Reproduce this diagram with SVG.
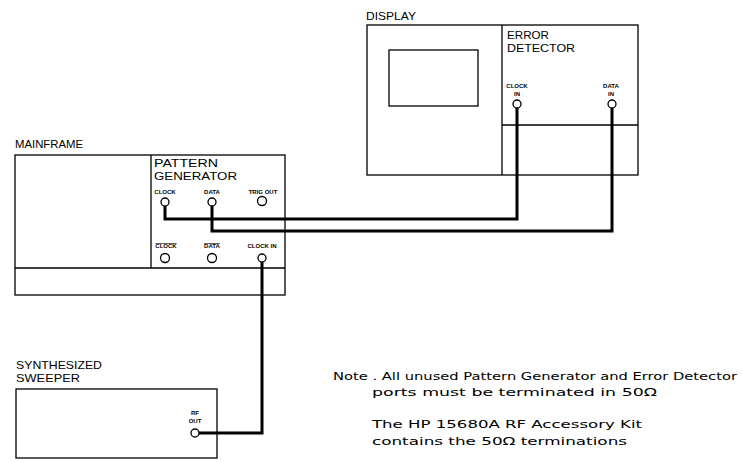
<svg xmlns="http://www.w3.org/2000/svg" width="743" height="462" viewBox="0 0 743 462">
<style>
.box{fill:none;stroke:#000;stroke-width:1.3}
.port{fill:#fff;stroke:#000;stroke-width:1.3}
.wire{fill:none;stroke:#000;stroke-width:3;stroke-linejoin:miter}
.t{font-family:"Liberation Sans",Arial,sans-serif;font-size:10.5px;fill:#000}
.s{font-family:"Liberation Sans",Arial,sans-serif;font-size:6px;font-weight:bold;fill:#000}
.n{font-family:"DejaVu Sans","Liberation Sans",sans-serif;font-size:11px;fill:#000}
</style>
<rect width="743" height="462" fill="#fff"/>
<g id="connectors">
<polyline class="wire" points="165,206 165,219 517,219 517,104"/>
<polyline class="wire" points="212,206 212,231 612,231 612,104"/>
<polyline class="wire" points="262,258 262,433 195,433"/>
</g>
<g id="display-error-detector">
<text class="t" x="366" y="20" textLength="50" lengthAdjust="spacingAndGlyphs">DISPLAY</text>
<rect class="box" x="367" y="25" width="271" height="150"/>
<line class="box" x1="502" y1="25" x2="502" y2="175"/>
<line class="box" x1="502" y1="125" x2="638" y2="125"/>
<rect class="box" x="389" y="50" width="89" height="56"/>
<text class="t" x="507" y="39" textLength="42" lengthAdjust="spacingAndGlyphs">ERROR</text>
<text class="t" x="507" y="52" textLength="68" lengthAdjust="spacingAndGlyphs">DETECTOR</text>
<text class="s" x="517" y="88" text-anchor="middle">CLOCK</text>
<text class="s" x="517" y="96" text-anchor="middle">IN</text>
<circle class="port" cx="517" cy="104" r="4"/>
<text class="s" x="611" y="88" text-anchor="middle">DATA</text>
<text class="s" x="611" y="96" text-anchor="middle">IN</text>
<circle class="port" cx="612" cy="104" r="4"/>
</g>
<g id="mainframe-pattern-generator">
<text class="t" x="15" y="148" textLength="68" lengthAdjust="spacingAndGlyphs">MAINFRAME</text>
<rect class="box" x="15" y="155" width="270" height="140"/>
<line class="box" x1="151" y1="155" x2="151" y2="268"/>
<line class="box" x1="15" y1="268" x2="285" y2="268"/>
<text class="t" x="154" y="167" textLength="64" lengthAdjust="spacingAndGlyphs">PATTERN</text>
<text class="t" x="154" y="180" textLength="83" lengthAdjust="spacingAndGlyphs">GENERATOR</text>
<text class="s" x="165" y="194" text-anchor="middle">CLOCK</text>
<text class="s" x="212" y="194" text-anchor="middle">DATA</text>
<text class="s" x="263" y="194" text-anchor="middle">TRIG OUT</text>
<circle class="port" cx="165" cy="202" r="4"/>
<circle class="port" cx="212" cy="202" r="4"/>
<circle class="port" cx="262" cy="201" r="4.5"/>
<text class="s" x="166" y="248" text-anchor="middle" text-decoration="overline">CLOCK</text>
<text class="s" x="212" y="248" text-anchor="middle" text-decoration="overline">DATA</text>
<text class="s" x="262" y="248" text-anchor="middle">CLOCK IN</text>
<circle class="port" cx="165" cy="258" r="4.5"/>
<circle class="port" cx="212" cy="258" r="4.5"/>
<circle class="port" cx="262" cy="258" r="4"/>
</g>
<g id="synthesized-sweeper">
<text class="t" x="16" y="369" textLength="86" lengthAdjust="spacingAndGlyphs">SYNTHESIZED</text>
<text class="t" x="16" y="382" textLength="64" lengthAdjust="spacingAndGlyphs">SWEEPER</text>
<rect class="box" x="16" y="389" width="201" height="69"/>
<text class="s" x="195" y="415" text-anchor="middle">RF</text>
<text class="s" x="195" y="423" text-anchor="middle">OUT</text>
<circle class="port" cx="195" cy="433" r="4"/>
</g>
<g id="note">
<text class="n" x="333" y="380" textLength="404" lengthAdjust="spacingAndGlyphs">Note . All unused Pattern Generator and Error Detector</text>
<text class="n" x="372" y="396" textLength="285" lengthAdjust="spacingAndGlyphs">ports must be terminated in 50Ω</text>
<text class="n" x="372" y="428" textLength="270" lengthAdjust="spacingAndGlyphs">The HP 15680A RF Accessory Kit</text>
<text class="n" x="372" y="445" textLength="255" lengthAdjust="spacingAndGlyphs">contains the 50Ω terminations</text>
</g>
</svg>
